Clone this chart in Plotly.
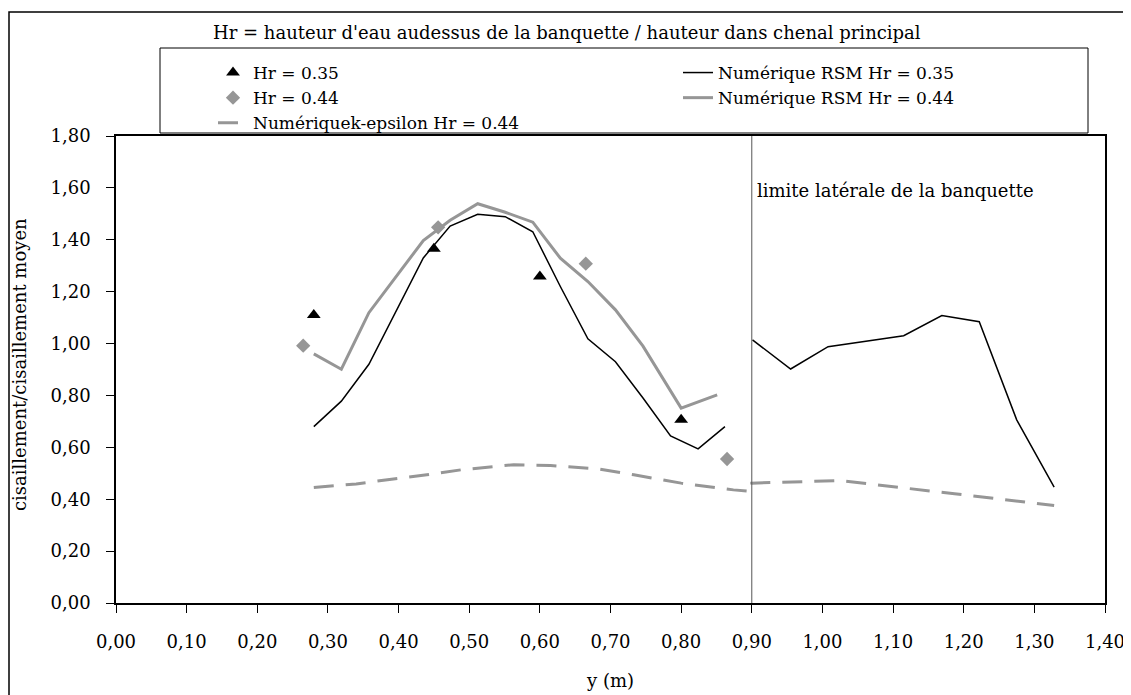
import plotly.graph_objects as go

# ---- data ----
tri_x = [0.28, 0.45, 0.60, 0.80]
tri_y = [1.11, 1.365, 1.258, 0.706]

dia_x = [0.265, 0.456, 0.665, 0.865]
dia_y = [0.992, 1.448, 1.308, 0.555]

rsm035_x = [0.28, 0.319, 0.358, 0.397, 0.435, 0.473, 0.512, 0.551, 0.590, 0.629, 0.668,
            0.707, 0.746, 0.785, 0.824, 0.862, None,
            0.901, 0.955, 1.008, 1.061, 1.115, 1.169, 1.222, 1.275, 1.328]
rsm035_y = [0.68, 0.778, 0.92, 1.125, 1.33, 1.453, 1.498, 1.489, 1.431, 1.22, 1.018,
            0.93, 0.79, 0.644, 0.594, 0.68, None,
            1.014, 0.902, 0.988, 1.008, 1.030, 1.108, 1.084, 0.706, 0.447]

rsm044_x = [0.28, 0.319, 0.358, 0.397, 0.435, 0.473, 0.512, 0.551, 0.590, 0.629, 0.668,
            0.707, 0.746, 0.80, 0.851]
rsm044_y = [0.96, 0.901, 1.119, 1.258, 1.397, 1.475, 1.539, 1.506, 1.468, 1.329, 1.239,
            1.13, 0.99, 0.751, 0.802]

keps_x = [0.28, 0.34, 0.39, 0.44, 0.49, 0.563, 0.615, 0.685, 0.733, 0.80, 0.874, 0.90,
          0.90, 1.024, 1.187, 1.328]
keps_y = [0.445, 0.459, 0.477, 0.494, 0.514, 0.533, 0.53, 0.516, 0.494, 0.462, 0.436, 0.43,
          0.462, 0.472, 0.421, 0.376]

x_ticks = [i / 10 for i in range(0, 15)]
y_ticks = [i / 5 for i in range(0, 10)]

FONT = "DejaVu Serif, Liberation Serif, serif"
GREY = "#969696"

OFF = 8  # page body margin
W, H = 1131 - OFF, 695 - OFF
ML = 116 - OFF
MT = 136 - OFF
PLOT_R = 1105 - OFF
PLOT_B = 603 - OFF
MR = W - PLOT_R
MB = H - PLOT_B
PW, PH = W - ML - MR, H - MT - MB


def px(xp):
    return (xp - OFF - ML) / PW


def py(yp):
    return (PLOT_B - (yp - OFF)) / PH


fig = go.Figure()

fig.add_trace(go.Scatter(x=tri_x, y=tri_y, mode="markers", name="Hr = 0.35",
                         marker=dict(symbol="triangle-up", size=12, color="black"),
                         legend="legend"))
fig.add_trace(go.Scatter(x=dia_x, y=dia_y, mode="markers", name="Hr = 0.44",
                         marker=dict(symbol="diamond", size=11, color=GREY),
                         legend="legend"))
fig.add_trace(go.Scatter(x=keps_x, y=keps_y, mode="lines", name="Numériquek-epsilon Hr = 0.44",
                         line=dict(color=GREY, width=3, dash="20px,12px"),
                         legend="legend"))
fig.add_trace(go.Scatter(x=rsm035_x, y=rsm035_y, mode="lines", name="Numérique RSM Hr = 0.35",
                         line=dict(color="black", width=1.5), connectgaps=False,
                         legend="legend2"))
fig.add_trace(go.Scatter(x=rsm044_x, y=rsm044_y, mode="lines", name="Numérique RSM Hr = 0.44",
                         line=dict(color=GREY, width=3),
                         legend="legend2"))

shapes = [
    # outer chart border
    dict(type="rect", xref="paper", yref="paper", x0=px(9), x1=px(1127), y0=py(720), y1=py(12),
         line=dict(color="black", width=1.5), fillcolor="rgba(0,0,0,0)", layer="below"),
    # legend box
    dict(type="rect", xref="paper", yref="paper", x0=px(160), x1=px(1088), y0=py(133), y1=py(48),
         line=dict(color="black", width=1), fillcolor="rgba(0,0,0,0)"),
    # vertical limit line
    dict(type="line", xref="x", yref="y", x0=0.90, x1=0.90, y0=0, y1=1.8,
         line=dict(color="#555555", width=1)),
]

legend_common = dict(orientation="v", bgcolor="rgba(0,0,0,0)", borderwidth=0,
                     font=dict(family=FONT, size=17, color="black"),
                     xanchor="left", yanchor="top", tracegroupgap=0, itemwidth=30)

fig.update_layout(
    width=W, height=H,
    margin=dict(l=ML, r=MR, t=MT, b=MB, autoexpand=False),
    paper_bgcolor="white", plot_bgcolor="white",
    separators=", ",
    font=dict(family=FONT, size=18, color="black"),
    shapes=shapes,
    legend=dict(x=px(213), y=py(55), **legend_common),
    legend2=dict(x=px(678), y=py(55), **legend_common),
    annotations=[
        dict(text="Hr = hauteur d'eau audessus de la banquette / hauteur dans chenal principal",
             xref="paper", yref="paper", x=px(567), y=py(32), xanchor="center", yanchor="middle",
             showarrow=False, font=dict(family=FONT, size=18, color="black")),
        dict(text="limite latérale de la banquette", xref="x", yref="y", x=0.905, y=1.59,
             xanchor="left", yanchor="middle", showarrow=False,
             font=dict(family=FONT, size=18, color="black")),
        dict(text="y (m)", xref="paper", yref="paper", x=px(610), y=py(680),
             xanchor="center", yanchor="middle", showarrow=False,
             font=dict(family=FONT, size=18, color="black")),
        dict(text="cisaillement/cisaillement moyen", xref="paper", yref="paper",
             x=px(19), y=py(365), xanchor="center", yanchor="middle", textangle=-90,
             showarrow=False, font=dict(family=FONT, size=18, color="black")),
    ],
    xaxis=dict(range=[0, 1.4], tickvals=x_ticks, tickformat=".2f", showgrid=False, zeroline=False,
               showline=True, linecolor="black", linewidth=1.5, mirror=True,
               ticks="outside", ticklen=8, tickcolor="black", tickwidth=1,
               tickfont=dict(family=FONT, size=18), ticklabelstandoff=14),
    yaxis=dict(range=[0, 1.8], tickvals=y_ticks, tickformat=".2f", showgrid=False, zeroline=False,
               showline=True, linecolor="black", linewidth=1.5, mirror=True,
               ticks="outside", ticklen=8, tickcolor="black", tickwidth=1,
               tickfont=dict(family=FONT, size=18), ticklabelstandoff=12),
)

fig.write_html("out.html")
